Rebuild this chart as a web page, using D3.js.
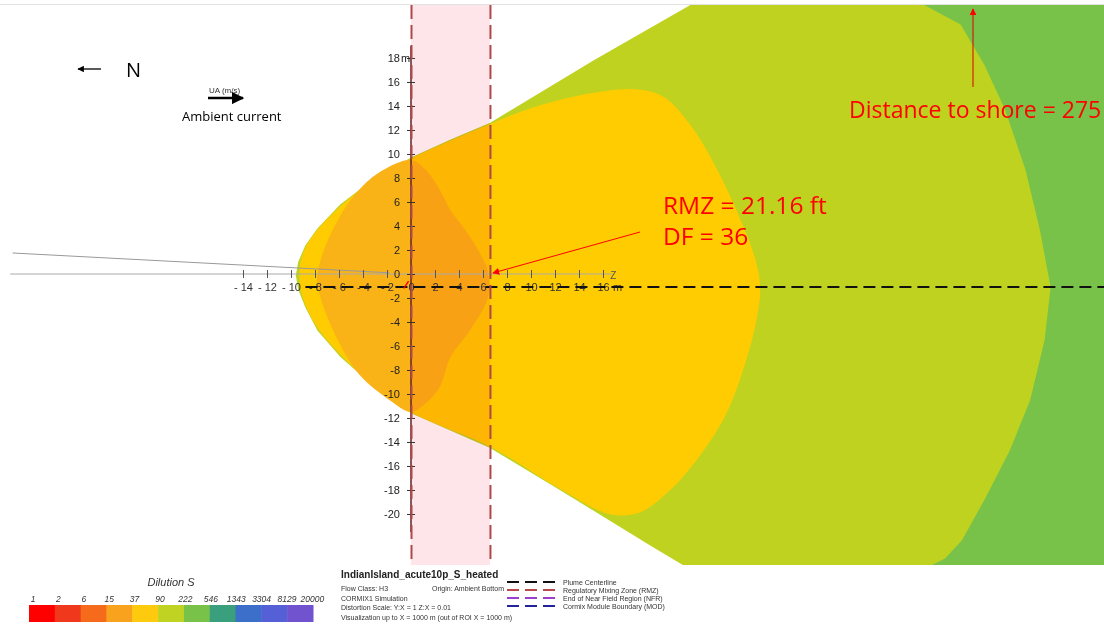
<!DOCTYPE html>
<html>
<head>
<meta charset="utf-8">
<script src="https://cdn.jsdelivr.net/npm/d3@7"></script>
<style>
body { margin: 0; background: #fff; }
svg { display: block; font-family: "Liberation Sans", Arial, sans-serif; }
</style>
</head>
<body>
<div id="chart"></div>
<script>
// axis ticks (m)
const xTicks = d3.range(-14, 17, 2)
const yTicks = d3.range(-20, 19, 2)

// dilution colour legend
const dilutionLabels = ["1", "2", "6", "15", "37", "90", "222", "546", "1343", "3304", "8129", "20000"]
const dilutionColors = ["#ff0000", "#f0381c", "#f66b1b", "#f9a21d", "#fdca0d", "#c1d322", "#78c24a", "#3a9f7c", "#3b6fc9", "#5660d6", "#7152cf"]

// contour outlines, plume coordinates [x m, y m]
const contour222 = [[-9.6, -0.1], [-9.4, 1.0], [-8.8, 2.4], [-7.8, 3.8], [-5.9, 5.8], [-3.4, 7.7], [0, 9.7], [3.3, 11.2], [6.6, 12.6], [15.2, 17.8], [25, 23.4],
    [60, 23.4], [60, -25], [23.9, -25], [19.9, -22.6], [12.4, -18], [6.6, -14.5], [0, -11.6], [-3.4, -9.1], [-5.9, -6.9], [-7.8, -4.7], [-8.8, -2.8], [-9.4, -1.3]]
const contour546 = [[42.8, 23.4], [42.8, 22.4], [45.8, 20.8], [47.8, 17.4], [49.5, 13.7], [51.2, 8.7], [52.4, 3.7], [53.3, -1.1], [52.8, -5.5], [51.6, -10.5], [49.9, -14.7],
    [47.8, -18.8], [45.9, -22.2], [44.5, -23.7], [43.3, -24.3], [43, -25], [60, -25], [60, 23.4]]
const contour90 = [[-9.3, -0.1], [-9.2, 1.0], [-8.7, 2.4], [-7.7, 3.8], [-5.8, 5.7], [-3.4, 7.6], [0, 9.6], [3.3, 11.1], [6.6, 12.5], [9.9, 13.8], [14.1, 14.9], [18.6, 15.4],
    [21, 14.8], [23.3, 12.4], [25.3, 9.1], [27.3, 4.9], [28.7, 1.2], [29.1, -1.1], [28.8, -3.8], [27.8, -7.6], [26.2, -11.8], [24.1, -15.1], [21.6, -18], [19, -19.9],
    [16.5, -20], [12.4, -17.9], [6.6, -14.4], [0, -11.5], [-3.4, -9], [-5.8, -6.8], [-7.7, -4.6], [-8.7, -2.8], [-9.2, -1.3]]
const contour37 = [[-7.8, -0.1], [-7.4, 1.6], [-6.3, 4.1], [-4.7, 6.6], [-2.6, 8.5], [0, 9.5], [1.2, 8.7], [2.4, 7], [3.3, 5.3], [4.5, 3.7], [5.8, 1.6], [6.4, 0.2],
    [6.4, -2], [4.9, -4.7], [3.3, -6.9], [2.4, -9.4], [1.2, -10.8], [0, -11.5], [-1.8, -10.5], [-4.3, -8.4], [-5.9, -5.9], [-7.2, -3], [-7.8, -0.9]]

// plume features [x m]
const rmzStart = 0
const rmzEnd = 6.58
const centerlineY = -1.08
const centerlineStart = -8.8

// legend of line types
const lineNames = ["Plume Centerline", "Regulatory Mixing Zone (RMZ)", "End of Near Field Region (NFR)", "Cormix Module Boundary (MOD)"]
const lineColors = ["#111111", "#b84a4a", "#9b3fcc", "#23239c"]

const infoLines = ["Flow Class: H3", "CORMIX1 Simulation", "Distortion Scale:  Y:X = 1     Z:X = 0.01", "Visualization up to X = 1000 m (out of ROI X = 1000 m)"]

const width = 1104
const height = 625

const x = d3.scaleLinear().domain([-34.25, 57.75]).range([0, width])
const y = d3.scaleLinear().domain([22.833, -29.25]).range([0, height])

const svg = d3.select("#chart")
    .append("svg")
    .attr("width", width)
    .attr("height", height)

svg.append("rect").attr("width", width).attr("height", height).attr("fill", "#fff")

svg.append("clipPath").attr("id", "plot")
    .append("rect")
    .attr("x", 0).attr("y", 5).attr("width", width).attr("height", 560)

const line = d3.line().x(d => x(d[0])).y(d => y(d[1]))
const smooth = d3.line().x(d => x(d[0])).y(d => y(d[1])).curve(d3.curveCatmullRomClosed.alpha(0.5))

const plume = svg.append("g").attr("clip-path", "url(#plot)")

plume.append("path").attr("d", line(contour222) + "Z").attr("fill", "#bfd21f")
plume.append("path").attr("d", line(contour546) + "Z").attr("fill", "#78c24a")
plume.append("path").attr("d", smooth(contour90)).attr("fill", "#ffcc02")
plume.append("path").attr("d", smooth(contour37)).attr("fill", "#fab316")

svg.append("line")
    .attr("x1", 0).attr("x2", width).attr("y1", 4.5).attr("y2", 4.5)
    .attr("stroke", "#e2e2e2").attr("stroke-width", 1)

// RMZ band tints whatever lies under it
svg.append("rect")
    .attr("x", x(rmzStart))
    .attr("y", 5)
    .attr("width", x(rmzEnd) - x(rmzStart))
    .attr("height", 560)
    .attr("fill", "#fde5e9")
    .style("mix-blend-mode", "multiply")

// ambient gray reference lines
svg.append("line")
    .attr("x1", x(-33.4)).attr("x2", x(16.8))
    .attr("y1", y(0)).attr("y2", y(0))
    .attr("stroke", "#aaa").attr("stroke-width", 1.2)
svg.append("line")
    .attr("x1", x(-33.2)).attr("x2", x(-1.8))
    .attr("y1", y(1.75)).attr("y2", y(0.1))
    .attr("stroke", "#999").attr("stroke-width", 1)

// horizontal axis
const xAxis = svg.append("g")
    .attr("transform", `translate(0,${y(0)})`)
    .call(d3.axisBottom(x)
        .tickValues(xTicks)
        .tickSize(4)
        .tickPadding(5)
        .tickFormat(d => d < 0 ? "- " + Math.abs(d) : d))
xAxis.select(".domain").remove()
xAxis.selectAll("line").attr("y1", -4).attr("stroke", "#555")
xAxis.selectAll("text").attr("font-size", 11).attr("fill", "#333").attr("font-family", "Liberation Sans, Arial")

// vertical axis
svg.append("line")
    .attr("x1", x(0)).attr("x2", x(0))
    .attr("y1", y(19)).attr("y2", y(-21.5))
    .attr("stroke", "#5a2626").attr("stroke-width", 1.5)
const yAxis = svg.append("g")
    .attr("transform", `translate(${x(0)},0)`)
    .call(d3.axisLeft(y)
        .tickValues(yTicks)
        .tickSize(4)
        .tickPadding(7)
        .tickFormat(d => d))
yAxis.select(".domain").remove()
yAxis.selectAll("line").attr("x1", 4).attr("stroke", "#333")
yAxis.selectAll("text").attr("font-size", 11).attr("fill", "#222").attr("font-family", "Liberation Sans, Arial")

svg.append("text").attr("x", x(0) - 10).attr("y", y(18) + 4).attr("font-size", 11).attr("fill", "#222").text("m")
svg.append("text").attr("x", x(16) + 10).attr("y", y(0) + 17).attr("font-size", 11).attr("fill", "#333").text("m")
svg.append("text").attr("x", x(16.6)).attr("y", y(-0.4)).attr("font-size", 10).attr("fill", "#555").text("Z")

// plume centerline
svg.append("line")
    .attr("x1", x(centerlineStart)).attr("x2", width)
    .attr("y1", y(centerlineY)).attr("y2", y(centerlineY))
    .attr("stroke", "#111").attr("stroke-width", 2)
    .attr("stroke-dasharray", "12,6")

// RMZ boundaries
svg.append("g")
    .selectAll("line")
    .data([rmzStart, rmzEnd])
    .join("line")
    .attr("x1", d => x(d) + 0.5).attr("x2", d => x(d) + 0.5)
    .attr("y1", 5).attr("y2", 565)
    .attr("stroke", "#b04848").attr("stroke-width", 2)
    .attr("stroke-dasharray", "14,6")

// origin mark
svg.append("line")
    .attr("x1", x(-0.6)).attr("x2", x(-0.2))
    .attr("y1", y(-1.2)).attr("y2", y(-0.6))
    .attr("stroke", "#f00").attr("stroke-width", 1.5)

const defs = svg.append("defs")
defs.append("marker").attr("id", "red-head")
    .attr("viewBox", "0 0 10 10").attr("refX", 9).attr("refY", 5)
    .attr("markerWidth", 7).attr("markerHeight", 7).attr("orient", "auto")
    .append("path").attr("d", "M0,0L10,5L0,10z").attr("fill", "#f00")
defs.append("marker").attr("id", "black-head")
    .attr("viewBox", "0 0 10 10").attr("refX", 9).attr("refY", 5)
    .attr("markerWidth", 5).attr("markerHeight", 5).attr("orient", "auto")
    .append("path").attr("d", "M0,0L10,5L0,10z").attr("fill", "#000")

// RMZ annotation
svg.append("line")
    .attr("x1", 640).attr("y1", 232)
    .attr("x2", x(rmzEnd) + 3).attr("y2", y(0) - 1)
    .attr("stroke", "#f00").attr("stroke-width", 1)
    .attr("marker-end", "url(#red-head)")
svg.append("text").attr("x", 663).attr("y", 214)
    .attr("font-family", "Open Sans, sans-serif").attr("font-size", 24.5).attr("fill", "#f00")
    .text("RMZ = 21.16 ft")
svg.append("text").attr("x", 663).attr("y", 245)
    .attr("font-family", "Open Sans, sans-serif").attr("font-size", 24.5).attr("fill", "#f00")
    .text("DF = 36")

// shore annotation
svg.append("line")
    .attr("x1", 973).attr("y1", 87).attr("x2", 973).attr("y2", 9)
    .attr("stroke", "#d00").attr("stroke-width", 1)
    .attr("marker-end", "url(#red-head)")
svg.append("text").attr("x", 849).attr("y", 118)
    .attr("font-family", "Open Sans, sans-serif").attr("font-size", 23).attr("fill", "#f00")
    .text("Distance to shore = 275")

// north and current
svg.append("line").attr("x1", 101).attr("y1", 69).attr("x2", 78).attr("y2", 69)
    .attr("stroke", "#000").attr("stroke-width", 1.3).attr("marker-end", "url(#black-head)")
svg.append("text").attr("x", 126).attr("y", 77).attr("font-family", "Open Sans, sans-serif")
    .attr("font-size", 20).text("N")
svg.append("text").attr("x", 209).attr("y", 93).attr("font-size", 8).attr("fill", "#333").text("UA (m/s)")
svg.append("line").attr("x1", 208).attr("y1", 98).attr("x2", 243).attr("y2", 98)
    .attr("stroke", "#000").attr("stroke-width", 2.5).attr("marker-end", "url(#black-head)")
svg.append("text").attr("x", 182).attr("y", 121).attr("font-family", "Open Sans, sans-serif")
    .attr("font-size", 13).text("Ambient current")

// dilution legend
const swatch = d3.scaleBand().domain(d3.range(dilutionColors.length)).range([29, 313])
svg.append("text").attr("x", 171).attr("y", 586).attr("text-anchor", "middle")
    .attr("font-size", 11).attr("font-style", "italic").attr("fill", "#333").text("Dilution S")
svg.append("g")
    .selectAll("rect")
    .data(dilutionColors)
    .join("rect")
    .attr("x", (d, i) => swatch(i)).attr("y", 605)
    .attr("width", swatch.bandwidth() + 0.5).attr("height", 17)
    .attr("fill", d => d)
svg.append("g")
    .selectAll("text")
    .data(dilutionLabels)
    .join("text")
    .attr("x", (d, i) => 33 + i * 25.4).attr("y", 602)
    .attr("text-anchor", "middle")
    .attr("font-size", 8.5).attr("font-style", "italic").attr("fill", "#333")
    .text(d => d)

// run info
svg.append("text").attr("x", 341).attr("y", 578).attr("font-size", 10).attr("font-weight", "bold")
    .attr("fill", "#222").text("IndianIsland_acute10p_S_heated")
svg.append("g")
    .selectAll("text")
    .data(infoLines)
    .join("text")
    .attr("x", 341).attr("y", (d, i) => 591 + i * 9.5)
    .attr("font-size", 7).attr("fill", "#333")
    .text(d => d)
svg.append("text").attr("x", 432).attr("y", 591).attr("font-size", 7).attr("fill", "#333").text("Origin: Ambient Bottom")

// line type legend
const leg = svg.append("g")
leg.selectAll("line")
    .data(lineColors)
    .join("line")
    .attr("x1", 507).attr("x2", 558)
    .attr("y1", (d, i) => 582 + i * 8).attr("y2", (d, i) => 582 + i * 8)
    .attr("stroke", d => d).attr("stroke-width", 2)
    .attr("stroke-dasharray", "12,6")
leg.selectAll("text")
    .data(lineNames)
    .join("text")
    .attr("x", 563).attr("y", (d, i) => 584.5 + i * 8)
    .attr("font-size", 7).attr("fill", "#333")
    .text(d => d)
</script>
</body>
</html>
